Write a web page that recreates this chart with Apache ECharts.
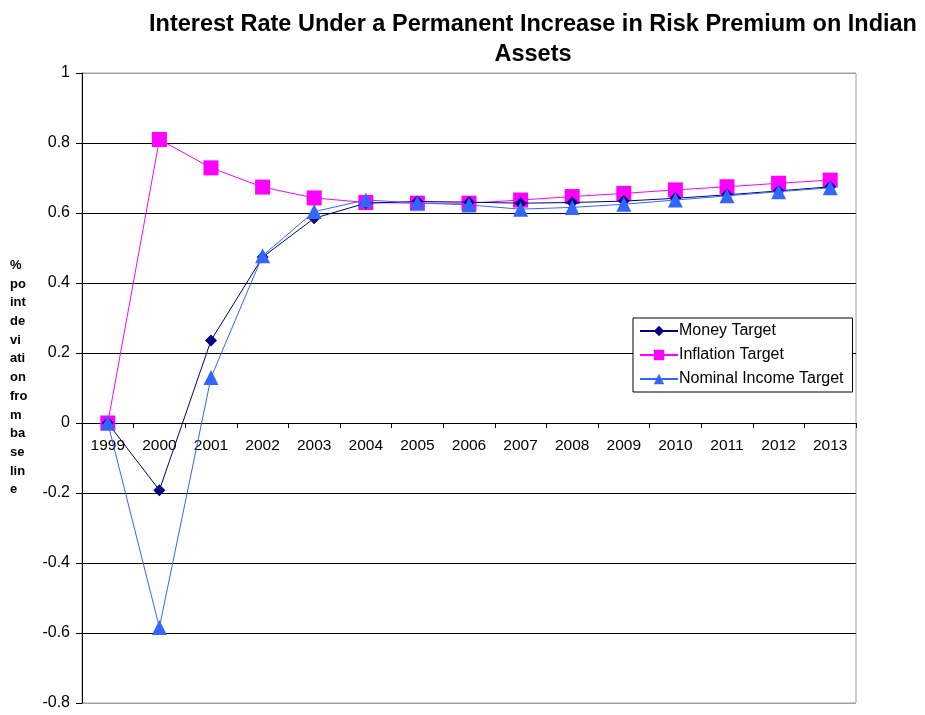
<!DOCTYPE html>
<html>
<head>
<meta charset="utf-8">
<script src="https://cdn.jsdelivr.net/npm/echarts@6/dist/echarts.min.js"></script>
<style>
  html, body { margin: 0; padding: 0; background: #fff; }
  #chart { width: 925px; height: 715px; }
</style>
</head>
<body>
<div id="chart"></div>
<script>
const years = ['1999', '2000', '2001', '2002', '2003', '2004', '2005', '2006', '2007', '2008', '2009', '2010', '2011', '2012', '2013']
const moneyTarget = [0, -0.192, 0.236, 0.474, 0.585, 0.628, 0.633, 0.631, 0.628, 0.630, 0.634, 0.642, 0.652, 0.663, 0.675]
const inflationTarget = [0, 0.810, 0.729, 0.674, 0.643, 0.630, 0.628, 0.628, 0.637, 0.647, 0.656, 0.666, 0.675, 0.685, 0.694]
const nominalIncomeTarget = [0, -0.584, 0.130, 0.478, 0.604, 0.637, 0.629, 0.623, 0.611, 0.616, 0.625, 0.637, 0.649, 0.661, 0.672]
const yTicks = { min: -0.8, max: 1, step: 0.2 }
const yAxisTitle = ['%', 'po', 'int', 'de', 'vi', 'ati', 'on', 'fro', 'm', 'ba', 'se', 'lin', 'e']

const font = 'Liberation Sans, Arial, sans-serif'
// grey frame lines at top and bottom, black gridlines between
const splitColors = ['#a0a0a0', '#000', '#000', '#000', '#000', '#000', '#000', '#000', '#000', '#a0a0a0']

const gridTop = 73
const gridBottom = 12
const plotHeight = 715 - gridTop - gridBottom
// move the category axis up to the zero line (labels follow it)
const zeroOffset = plotHeight * (0 - yTicks.min) / (yTicks.max - yTicks.min)

const chart = echarts.init(document.getElementById('chart'))
chart.setOption({
  backgroundColor: '#fff',
  animation: false,
  title: {
    text: 'Interest Rate Under a Permanent Increase in Risk Premium on Indian\nAssets',
    left: 528,
    top: 5,
    textAlign: 'center',
    textStyle: { fontFamily: font, fontSize: 23.5, fontWeight: 'bold', color: '#000', lineHeight: 30, align: 'center' }
  },
  graphic: [
    {
      type: 'text',
      left: 10,
      top: 256,
      style: {
        text: yAxisTitle.join('\n'),
        fontFamily: font,
        fontSize: 13,
        fontWeight: 'bold',
        lineHeight: 18.7,
        fill: '#000'
      }
    }
  ],
  legend: {
    orient: 'vertical',
    left: 633,
    top: 318,
    padding: [5, 9, 5, 6],
    itemGap: 8,
    itemWidth: 38,
    itemHeight: 13,
    backgroundColor: '#fff',
    borderColor: '#000',
    borderWidth: 1,
    textStyle: { fontFamily: font, fontSize: 16, color: '#000', padding: [0, 0, 0, -4] },
    data: ['Money Target', 'Inflation Target', 'Nominal Income Target']
  },
  grid: {
    left: 82,
    right: 69,
    top: gridTop,
    bottom: gridBottom,
    outerBoundsMode: 'none',
    containLabel: false,
    show: true,
    borderColor: '#a0a0a0',
    borderWidth: 1
  },
  xAxis: {
    type: 'category',
    data: years,
    boundaryGap: true,
    position: 'bottom',
    offset: -zeroOffset,
    axisLine: { onZero: false, lineStyle: { color: '#000', width: 1 } },
    axisTick: { show: true, inside: false, length: 5, lineStyle: { color: '#000' } },
    axisLabel: { fontFamily: font, fontSize: 15.5, color: '#000', margin: 15, interval: 0 },
    splitLine: { show: false }
  },
  yAxis: {
    type: 'value',
    min: yTicks.min,
    max: yTicks.max,
    interval: yTicks.step,
    axisLine: { show: true, lineStyle: { color: '#000' } },
    axisTick: { show: true, length: 6, lineStyle: { color: '#000' } },
    axisLabel: {
      fontFamily: font,
      fontSize: 16,
      color: '#000',
      margin: 12,
      formatter: v => String(Math.round(v * 10) / 10)
    },
    splitLine: { show: true, lineStyle: { color: splitColors, width: 1 } }
  },
  series: [
    {
      name: 'Money Target',
      type: 'line',
      data: moneyTarget,
      symbol: 'diamond',
      symbolSize: 12,
      lineStyle: { color: '#000080', width: 1 },
      itemStyle: { color: '#000080' },
      z: 3
    },
    {
      name: 'Inflation Target',
      type: 'line',
      data: inflationTarget,
      symbol: 'rect',
      symbolSize: 15,
      lineStyle: { color: '#ff00ff', width: 1 },
      itemStyle: { color: '#ff00ff' },
      z: 2
    },
    {
      name: 'Nominal Income Target',
      type: 'line',
      data: nominalIncomeTarget,
      symbol: 'triangle',
      symbolSize: 15,
      lineStyle: { color: '#3366ff', width: 1 },
      itemStyle: { color: '#3366ff' },
      z: 4
    }
  ]
})
</script>
</body>
</html>
